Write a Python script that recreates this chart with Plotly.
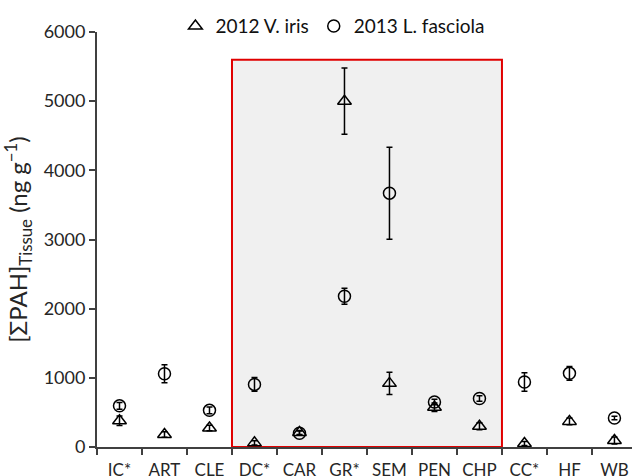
import plotly.graph_objects as go

categories = ["IC*", "ART", "CLE", "DC*", "CAR", "GR*", "SEM", "PEN", "CHP", "CC*", "HF", "WB"]
iris_2012 = [380, 180, 275, 60, 210, 5000, 920, 575, 300, 50, 370, 95]
iris_2012_err = [70, 40, 40, 30, 30, 480, 160, 60, 50, 30, 50, 50]
fasciola_2013 = [595, 1060, 530, 905, 200, 2180, 3670, 650, 700, 940, 1065, 420]
fasciola_2013_err = [50, 130, 50, 100, 30, 115, 665, 40, 40, 135, 100, 25]

highlight_start, highlight_end = "DC*", "CHP"
highlight_top = 5600

FONT = "Lato, 'Open Sans', sans-serif"

fig = go.Figure()
fig.add_trace(go.Scatter(
    x=categories, y=iris_2012, mode="markers", name="2012 V. iris",
    marker=dict(symbol="triangle-up-open", size=12, color="black", line=dict(width=1.5, color="black")),
    error_y=dict(type="data", array=iris_2012_err, visible=True, color="black", thickness=1.5, width=3),
    cliponaxis=False,
))
fig.add_trace(go.Scatter(
    x=categories, y=fasciola_2013, mode="markers", name="2013 L. fasciola",
    marker=dict(symbol="circle-open", size=12, color="black", line=dict(width=1.5, color="black")),
    error_y=dict(type="data", array=fasciola_2013_err, visible=True, color="black", thickness=1.5, width=3),
    cliponaxis=False,
))

i0 = categories.index(highlight_start) - 0.5
i1 = categories.index(highlight_end) + 0.5
fig.add_shape(type="rect", xref="x", yref="y", x0=i0, x1=i1, y0=0, y1=highlight_top,
              fillcolor="#f0f0f0", line=dict(color="#e00000", width=2), layer="below")

fig.update_layout(
    width=632, height=476,
    margin=dict(l=97, r=0, t=32, b=29, autoexpand=False),
    paper_bgcolor="white", plot_bgcolor="white",
    font=dict(family=FONT, size=17, color="#262626"),
    showlegend=True,
    legend=dict(orientation="h", x=0.44, xanchor="center", yref="container", y=0.985, yanchor="top",
                font=dict(size=19, color="#111111"), tracegroupgap=0,
                bgcolor="rgba(0,0,0,0)"),
    xaxis=dict(
        type="category", categoryorder="array", categoryarray=categories,
        range=[-0.5, 11.39], showgrid=False, zeroline=False, automargin=False,
        showline=True, linecolor="#404040", linewidth=2, tickangle=0,
        ticks="outside", tickson="boundaries", ticklen=6, tickwidth=2, tickcolor="#404040",
        tickfont=dict(size=17, color="#262626"), ticklabelstandoff=7,
    ),
    yaxis=dict(
        range=[0, 6000], dtick=1000, showgrid=False, zeroline=False, automargin=False,
        showline=True, linecolor="#404040", linewidth=2,
        ticks="outside", ticklen=6, tickwidth=2, tickcolor="#404040",
        tickfont=dict(size=18, color="#262626"),
        title=dict(text="[ΣPAH]<sub>Tissue</sub> (ng g<sup>−1</sup>)", font=dict(size=24, color="#262626"), standoff=10),
    ),
)

fig.write_html("out.html")
